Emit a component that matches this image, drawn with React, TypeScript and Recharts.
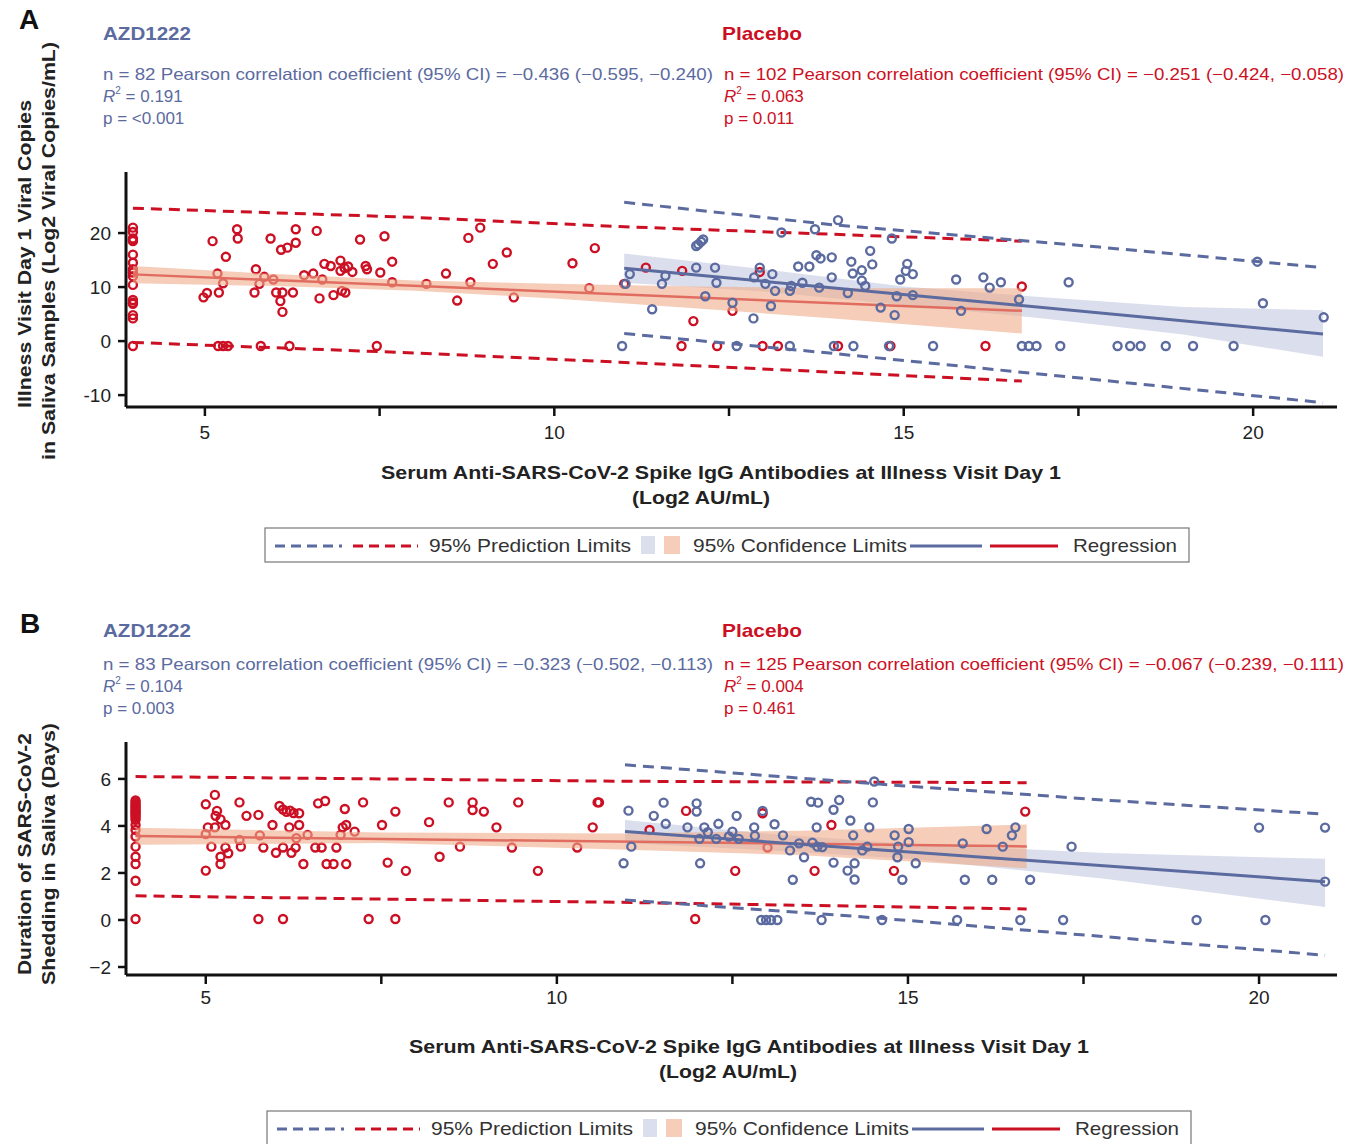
import React from "react";
import { ComposedChart, XAxis, YAxis, Scatter, Line, Area } from "recharts";

const BLUE = "#5b6a9f";
const RED = "#cc1024";
const BLUE_BAND = "#dbdeec";
const PEACH = "#eeac8a";
const FONT = "'Liberation Sans', Arial, sans-serif";

const xTicks = [5, 7.5, 10, 12.5, 15, 17.5, 20];

// ---- panel A: viral copies (log2) ----
const placeboColA = [21.0, 20.2, 19.0, 18.7, 18.5, 16.0, 14.5, 13.3, 12.7, 12.0, 10.4, 7.6, 7.1, 6.9, 4.8, 4.2, -0.9];
const placeboA: [number, number][] = [
  [5.11, 18.5], [5.46, 20.7], [5.47, 19.0], [5.3, 15.6], [4.98, 8.1], [5.03, 8.9], [5.2, 9.0], [5.18, 12.5],
  [5.26, 10.7], [5.71, 9.0], [5.73, 13.3], [5.78, 10.6], [5.85, 11.9], [5.94, 19.0], [5.98, 11.4], [6.02, 9.0],
  [6.09, 16.9], [6.11, 9.0], [6.08, 7.4], [6.11, 5.4], [6.18, 17.3], [6.26, 9.0], [6.3, 20.7], [6.3, 18.2],
  [6.42, 12.2], [6.55, 12.5], [6.6, 20.4], [6.64, 7.9], [6.68, 11.4], [6.71, 14.3], [6.8, 13.9], [6.84, 8.5],
  [6.94, 14.9], [6.94, 13.0], [7.0, 13.5], [7.01, 9.0], [7.05, 13.8], [7.11, 12.8], [6.96, 9.3], [7.22, 18.8],
  [7.3, 13.9], [7.32, 13.3], [7.51, 12.7], [7.57, 19.4], [7.68, 14.7], [7.68, 10.9], [8.17, 10.6], [8.45, 12.5],
  [8.61, 7.5], [8.77, 19.1], [8.8, 10.9], [8.94, 21.0], [9.12, 14.3], [9.32, 16.4], [9.42, 8.1], [10.26, 14.4],
  [10.58, 17.2], [10.5, 9.8], [5.19, -0.9], [5.26, -0.9], [5.33, -0.9], [5.8, -0.9], [6.21, -0.9], [7.46, -0.9],
  [11.0, 10.6], [11.31, 13.6], [11.83, 13.0], [11.99, 3.7], [12.55, 5.6], [12.94, 12.8], [16.69, 10.1],
  [11.82, -0.9], [12.33, -0.9], [12.98, -0.9], [13.2, -0.9], [14.06, -0.9], [14.81, -0.9], [16.17, -0.9],
];
const azdA: [number, number][] = [
  [10.97, -0.9], [11.02, 10.6], [11.08, 12.4], [11.4, 5.9], [11.54, 10.6], [11.59, 12.1], [12.03, 17.6], [12.06, 17.9],
  [12.1, 18.4], [12.13, 18.8], [12.03, 13.6], [12.16, 8.3], [12.3, 13.6], [12.32, 10.8], [12.55, 7.1], [12.61, -0.9],
  [12.85, 4.2], [12.86, 11.8], [12.94, 13.6], [13.02, 10.6], [13.1, 6.5], [13.12, 12.4], [13.16, 9.3], [13.25, 20.1],
  [13.37, 9.3], [13.39, 10.2], [13.37, -0.9], [13.49, 13.8], [13.55, 10.8], [13.65, 13.8], [13.73, 20.7], [13.75, 15.9],
  [13.81, 15.3], [13.79, 9.9], [13.97, 15.5], [13.97, 11.8], [14.0, -0.9], [14.06, 22.4], [14.2, 8.9], [14.25, 14.7],
  [14.27, 12.5], [14.28, -0.9], [14.4, 13.1], [14.4, 11.2], [14.45, 10.2], [14.52, 16.7], [14.55, 14.2], [14.67, 6.2],
  [14.79, -0.9], [14.83, 19.0], [14.87, 4.8], [14.9, 8.3], [14.95, 11.4], [15.05, 14.3], [15.03, 13.0], [15.13, 12.4],
  [15.13, 8.5], [15.42, -0.9], [15.75, 11.4], [15.82, 5.6], [16.14, 11.8], [16.23, 9.9], [16.39, 10.9], [16.65, 7.7],
  [16.69, -0.9], [16.79, -0.9], [16.9, -0.9], [17.24, -0.9], [17.36, 10.9], [18.06, -0.9], [18.24, -0.9], [18.39, -0.9],
  [18.75, -0.9], [19.14, -0.9], [19.72, -0.9], [20.06, 14.7], [20.14, 7.0], [21.01, 4.4],
];
const fitRedA: [number, number][] = [[3.97, 12.35], [16.69, 5.6]];
const fitBlueA: [number, number][] = [[11.0, 13.5], [21.0, 1.3]];
// [x, lower, upper]
const ciRedA: [number, number, number][] = [[3.97, 10.7, 13.9], [6, 10.2, 12.4], [8, 9.3, 11.2], [10, 7.9, 10.6], [12, 6.1, 10.1], [14, 4.2, 9.8], [16.69, 1.4, 9.8]];
const ciBlueA: [number, number, number][] = [[11.0, 10.8, 16.2], [13, 9.2, 13.3], [15, 6.7, 10.1], [17, 4.2, 8.1], [19, 1.2, 6.3], [21.0, -2.9, 5.7]];
const plRedA: [number, number, number][] = [[3.97, -0.25, 24.6], [8, -2.2, 22.9], [10.93, -3.9, 21.2], [16.69, -7.4, 18.5]];
const plBlueA: [number, number, number][] = [[11.0, 1.4, 25.7], [14, -2.3, 21.5], [17.8, -7.2, 17.4], [21.0, -11.4, 13.6]];

// ---- panel B: shedding duration (days) ----
const placeboColB = [5.08, 5.0, 4.92, 4.85, 4.78, 4.7, 4.64, 4.57, 4.5, 4.43, 4.35, 4.26, 4.04, 3.83, 3.55, 3.12, 2.69, 2.38, 1.67, 0.04];
const placeboB: [number, number][] = [
  [5.0, 4.92], [5.13, 5.32], [5.16, 4.64], [5.14, 4.43], [5.21, 4.28], [5.28, 4.04], [5.03, 3.94], [5.13, 3.94],
  [5.0, 2.1], [5.08, 3.12], [5.21, 2.69], [5.21, 2.38], [5.28, 3.08], [5.32, 2.84], [5.48, 5.0], [5.58, 4.43],
  [5.5, 3.12], [5.75, 4.47], [5.75, 0.04], [5.82, 3.08], [5.95, 4.04], [6.0, 2.86], [6.05, 4.85], [6.1, 4.7],
  [6.15, 4.6], [6.2, 4.65], [6.25, 4.55], [6.19, 3.94], [6.1, 3.08], [6.1, 0.04], [6.22, 2.86], [6.28, 3.08],
  [6.33, 4.04], [6.33, 4.54], [6.39, 2.38], [6.6, 4.96], [6.7, 5.06], [6.56, 3.08], [6.65, 3.08], [6.72, 2.38],
  [6.82, 2.38], [6.86, 3.08], [6.98, 4.72], [6.95, 3.94], [7.0, 4.04], [7.0, 2.38], [7.12, 3.76], [7.24, 5.0],
  [7.32, 0.04], [7.51, 4.04], [7.59, 2.44], [7.7, 4.61], [7.7, 0.04], [7.85, 2.09], [8.18, 4.16], [8.33, 2.69],
  [8.46, 5.0], [8.8, 5.0], [8.8, 4.68], [8.96, 4.61], [9.14, 3.94], [9.45, 5.0], [9.73, 2.09], [10.51, 3.94],
  [10.58, 5.0], [5.0, 3.65], [5.48, 3.4], [5.77, 3.6], [6.29, 3.48], [6.45, 3.62], [6.92, 3.62], [8.62, 3.12],
  [9.36, 3.08], [10.29, 3.08], [10.6, 5.0], [11.84, 4.64], [11.32, 3.83], [12.93, 4.54], [12.54, 2.09],
  [11.97, 0.04], [13.67, 2.09], [13.91, 4.04], [14.8, 2.09], [16.67, 4.61], [13.0, 3.08],
];
const azdB: [number, number][] = [
  [10.95, 2.41], [11.02, 4.65], [11.06, 3.12], [11.38, 4.43], [11.52, 4.99], [11.55, 4.09], [11.86, 3.94], [11.99, 4.96],
  [11.99, 4.61], [12.04, 2.41], [12.1, 3.94], [12.15, 3.73], [12.03, 3.45], [12.27, 3.45], [12.3, 4.09], [12.45, 3.55],
  [12.5, 3.76], [12.59, 3.45], [12.56, 4.43], [12.81, 3.94], [12.82, 3.58], [12.93, 4.64], [12.91, 0], [12.98, 0],
  [13.05, 0], [13.14, 0], [13.1, 4.07], [13.22, 3.6], [13.32, 2.96], [13.36, 1.71], [13.45, 3.26], [13.52, 2.67],
  [13.62, 5.03], [13.72, 4.99], [13.64, 3.29], [13.71, 3.12], [13.78, 3.1], [13.7, 3.94], [13.77, 0], [13.94, 4.69],
  [14.02, 5.1], [13.94, 2.44], [14.14, 2.1], [14.18, 4.23], [14.22, 3.6], [14.24, 2.41], [14.24, 1.72], [14.35, 2.96],
  [14.42, 3.12], [14.45, 3.94], [14.5, 5.0], [14.52, 5.89], [14.63, 0], [14.81, 3.6], [14.86, 3.12], [14.85, 2.67],
  [15.01, 3.87], [15.01, 3.31], [15.11, 2.41], [14.92, 1.71], [15.7, 0], [15.78, 3.26], [15.81, 1.71], [16.12, 3.87],
  [16.2, 1.71], [16.35, 3.12], [16.48, 3.6], [16.53, 3.94], [16.6, 0], [16.74, 1.71], [17.21, 0], [17.33, 3.12],
  [19.11, 0], [20.0, 3.93], [20.09, 0], [20.94, 3.93], [20.94, 1.63],
];
const fitRedB: [number, number][] = [[4.0, 3.57], [16.69, 3.13]];
const fitBlueB: [number, number][] = [[10.97, 3.76], [20.94, 1.63]];
const ciRedB: [number, number, number][] = [[4.0, 3.2, 3.92], [7.5, 3.27, 3.72], [10.9, 3.0, 3.68], [13.5, 2.75, 3.8], [16.69, 2.2, 4.06]];
const ciBlueB: [number, number, number][] = [[10.97, 3.27, 4.25], [13, 2.97, 3.67], [15, 2.6, 3.24], [17.8, 1.75, 2.85], [20.94, 0.55, 2.6]];
const plRedB: [number, number, number][] = [[4.0, 1.03, 6.1], [10.9, 0.75, 5.9], [16.69, 0.47, 5.84]];
const plBlueB: [number, number, number][] = [[10.97, 0.85, 6.6], [14.5, 0.1, 5.8], [17.8, -0.71, 5.1], [20.94, -1.5, 4.5]];

const pts = (rows: [number, number][]) => rows.map(([x, y]) => ({ x, y }));
const col = (x: number, ys: number[]) => ys.map((y) => ({ x, y }));
const fit = (rows: [number, number][]) => rows.map(([x, v]) => ({ x, v }));
const band = (rows: [number, number, number][]) => rows.map(([x, lo, hi]) => ({ x, band: [lo, hi], lo, hi }));

const ring = (color: string) => (p: any) =>
  p.cx == null ? <g /> : <circle cx={p.cx} cy={p.cy} r={4} fill="none" stroke={color} strokeWidth={2.4} />;

type PanelProps = {
  top: number;
  plotH: number;
  xDomain: [number, number];
  yDomain: [number, number];
  yTicks: number[];
  yFmt: (v: number) => string;
  xTickMargin: number;
  red: { x: number; y: number }[];
  blue: { x: number; y: number }[];
  redFit: [number, number][];
  blueFit: [number, number][];
  redCi: [number, number, number][];
  blueCi: [number, number, number][];
  redPl: [number, number, number][];
  bluePl: [number, number, number][];
};

const Panel = (p: PanelProps) => {
  const tickStyle = { fontSize: 19, fill: "#222", fontFamily: FONT };
  return (
    <div style={{ position: "absolute", left: 0, top: p.top }}>
      <ComposedChart width={1359} height={12 + p.plotH + 40} margin={{ top: 12, right: 22, bottom: 0, left: 0 }}>
        <XAxis
          type="number"
          dataKey="x"
          domain={p.xDomain}
          allowDataOverflow
          ticks={xTicks}
          tickFormatter={(v) => (Number.isInteger(v) ? String(v) : "")}
          height={40}
          tickSize={9}
          tickMargin={p.xTickMargin}
          tick={tickStyle}
          axisLine={{ stroke: "#111", strokeWidth: 3 }}
          tickLine={{ stroke: "#111", strokeWidth: 2.5 }}
        />
        <YAxis
          type="number"
          dataKey="y"
          domain={p.yDomain}
          allowDataOverflow
          ticks={p.yTicks}
          tickFormatter={p.yFmt}
          width={126}
          tickSize={8}
          tickMargin={7}
          tick={tickStyle}
          axisLine={{ stroke: "#111", strokeWidth: 3 }}
          tickLine={{ stroke: "#111", strokeWidth: 2.5 }}
        />
        <Area data={band(p.blueCi)} dataKey="band" type="linear" stroke="none" fill={BLUE_BAND} fillOpacity={1} isAnimationActive={false} zIndex={100} />
        <Scatter data={p.red} shape={ring(RED)} isAnimationActive={false} zIndex={200} />
        <Line data={fit(p.redFit)} dataKey="v" type="linear" stroke={RED} strokeWidth={2.5} dot={false} isAnimationActive={false} zIndex={210} />
        <Area data={band(p.redCi)} dataKey="band" type="linear" stroke="none" fill={PEACH} fillOpacity={0.6} isAnimationActive={false} zIndex={300} />
        <Line data={band(p.redPl)} dataKey="lo" type="linear" stroke={RED} strokeWidth={3} strokeDasharray="11 7" dot={false} isAnimationActive={false} zIndex={350} />
        <Line data={band(p.redPl)} dataKey="hi" type="linear" stroke={RED} strokeWidth={3} strokeDasharray="11 7" dot={false} isAnimationActive={false} zIndex={350} />
        <Line data={band(p.bluePl)} dataKey="lo" type="linear" stroke={BLUE} strokeWidth={3} strokeDasharray="11 7" dot={false} isAnimationActive={false} zIndex={360} />
        <Line data={band(p.bluePl)} dataKey="hi" type="linear" stroke={BLUE} strokeWidth={3} strokeDasharray="11 7" dot={false} isAnimationActive={false} zIndex={360} />
        <Line data={fit(p.blueFit)} dataKey="v" type="linear" stroke={BLUE} strokeWidth={3} dot={false} isAnimationActive={false} zIndex={400} />
        <Scatter data={p.blue} shape={ring(BLUE)} isAnimationActive={false} zIndex={500} />
      </ComposedChart>
    </div>
  );
};

type TProps = {
  x: number;
  y: number;
  size?: number;
  color?: string;
  bold?: boolean;
  len?: number;
  anchor?: "start" | "middle" | "end";
  rot?: boolean;
  children: React.ReactNode;
};

const T = ({ x, y, size = 17, color = "#222", bold, len, anchor = "start", rot, children }: TProps) => (
  <text
    x={x}
    y={y}
    fontSize={size}
    fill={color}
    fontWeight={bold ? 700 : 400}
    fontFamily={FONT}
    textAnchor={anchor}
    dominantBaseline="central"
    textLength={len}
    lengthAdjust={len ? "spacingAndGlyphs" : undefined}
    transform={rot ? `rotate(-90 ${x} ${y})` : undefined}
  >
    {children}
  </text>
);

const R2 = ({ x, y, color, value }: { x: number; y: number; color: string; value: string }) => (
  <text x={x} y={y} fontSize={17} fill={color} fontFamily={FONT} dominantBaseline="central">
    <tspan fontStyle="italic">R</tspan>
    <tspan fontSize={10} dy={-6}>2</tspan>
    <tspan dy={6}>{` = ${value}`}</tspan>
  </text>
);

const Stats = ({ y, blue, red }: { y: number; blue: string[]; red: string[] }) => (
  <g>
    <T x={103} y={y} size={16.5} color={BLUE} len={610}>{blue[0]}</T>
    <R2 x={103} y={y + 22} color={BLUE} value={blue[1]} />
    <T x={103} y={y + 44} size={17} color={BLUE}>{blue[2]}</T>
    <T x={724} y={y} size={16.5} color={RED} len={620}>{red[0]}</T>
    <R2 x={724} y={y + 22} color={RED} value={red[1]} />
    <T x={724} y={y + 44} size={17} color={RED}>{red[2]}</T>
  </g>
);

const LegendBox = ({ x, y }: { x: number; y: number }) => (
  <g>
    <rect x={x} y={y - 17} width={924} height={34} fill="none" stroke="#777" strokeWidth={1.2} />
    <line x1={x + 10} x2={x + 77} y1={y + 1} y2={y + 1} stroke={BLUE} strokeWidth={3} strokeDasharray="10 6" />
    <line x1={x + 88} x2={x + 153} y1={y + 1} y2={y + 1} stroke={RED} strokeWidth={3} strokeDasharray="10 6" />
    <T x={x + 164} y={y} size={19} color="#333" len={202}>95% Prediction Limits</T>
    <rect x={x + 376} y={y - 9} width={14} height={18} fill={BLUE_BAND} />
    <rect x={x + 399} y={y - 9} width={16} height={18} fill="#f5cdb9" />
    <T x={x + 428} y={y} size={19} color="#333" len={214}>95% Confidence Limits</T>
    <line x1={x + 645} x2={x + 717} y1={y + 1} y2={y + 1} stroke={BLUE} strokeWidth={3} />
    <line x1={x + 725} x2={x + 793} y1={y + 1} y2={y + 1} stroke={RED} strokeWidth={3} />
    <T x={x + 808} y={y} size={19} color="#333" len={104}>Regression</T>
  </g>
);

const xTitle = "Serum Anti-SARS-CoV-2 Spike IgG Antibodies at Illness Visit Day 1";

export default function App() {
  return (
    <div style={{ position: "absolute", left: 0, top: 0, width: 1359, height: 1144, background: "#fff", overflow: "hidden" }}>
      <Panel
        top={160}
        plotH={235}
        xDomain={[3.871, 21.2]}
        yDomain={[-12.2, 31.3]}
        yTicks={[-10, 0, 10, 20]}
        yFmt={(v) => String(v)}
        xTickMargin={10}
        red={[...col(3.97, placeboColA), ...pts(placeboA)]}
        blue={pts(azdA)}
        redFit={fitRedA}
        blueFit={fitBlueA}
        redCi={ciRedA}
        blueCi={ciBlueA}
        redPl={plRedA}
        bluePl={plBlueA}
      />
      <Panel
        top={730}
        plotH={233}
        xDomain={[3.864, 21.11]}
        yDomain={[-2.34, 7.57]}
        yTicks={[-2, 0, 2, 4, 6]}
        yFmt={(v) => (v < 0 ? `\u2212${Math.abs(v)}` : String(v))}
        xTickMargin={7}
        red={[...col(4.0, placeboColB), ...pts(placeboB)]}
        blue={pts(azdB)}
        redFit={fitRedB}
        blueFit={fitBlueB}
        redCi={ciRedB}
        blueCi={ciBlueB}
        redPl={plRedB}
        bluePl={plBlueB}
      />
      <svg width={1359} height={1144} style={{ position: "absolute", left: 0, top: 0, pointerEvents: "none" }}>
        {/* panel A */}
        <T x={19} y={19} size={28} bold color="#111">A</T>
        <T x={103} y={33} size={19} bold color={BLUE} len={88}>AZD1222</T>
        <T x={722} y={33} size={19} bold color={RED} len={80}>Placebo</T>
        <Stats
          y={74}
          blue={["n = 82 Pearson correlation coefficient (95% CI) = \u22120.436 (\u22120.595, \u22120.240)", "0.191", "p = <0.001"]}
          red={["n = 102 Pearson correlation coefficient (95% CI) = \u22120.251 (\u22120.424, \u22120.058)", "0.063", "p = 0.011"]}
        />
        <T x={24} y={254} size={19} bold rot anchor="middle" len={308}>Illness Visit Day 1 Viral Copies</T>
        <T x={48} y={251} size={19} bold rot anchor="middle" len={418}>in Saliva Samples (Log2 Viral Copies/mL)</T>
        <T x={721} y={472} size={19} bold anchor="middle" len={680}>{xTitle}</T>
        <T x={701} y={497} size={19} bold anchor="middle" len={138}>(Log2 AU/mL)</T>
        <LegendBox x={265} y={545} />

        {/* panel B */}
        <T x={20} y={623} size={28} bold color="#111">B</T>
        <T x={103} y={630} size={19} bold color={BLUE} len={88}>AZD1222</T>
        <T x={722} y={630} size={19} bold color={RED} len={80}>Placebo</T>
        <Stats
          y={664}
          blue={["n = 83 Pearson correlation coefficient (95% CI) = \u22120.323 (\u22120.502, \u22120.113)", "0.104", "p = 0.003"]}
          red={["n = 125 Pearson correlation coefficient (95% CI) = \u22120.067 (\u22120.239, \u22120.111)", "0.004", "p = 0.461"]}
        />
        <T x={24} y={854} size={19} bold rot anchor="middle" len={242}>Duration of SARS-CoV-2</T>
        <T x={48} y={854} size={19} bold rot anchor="middle" len={262}>Shedding in Saliva (Days)</T>
        <T x={749} y={1046} size={19} bold anchor="middle" len={680}>{xTitle}</T>
        <T x={728} y={1071} size={19} bold anchor="middle" len={138}>(Log2 AU/mL)</T>
        <LegendBox x={267} y={1128} />
      </svg>
    </div>
  );
}
